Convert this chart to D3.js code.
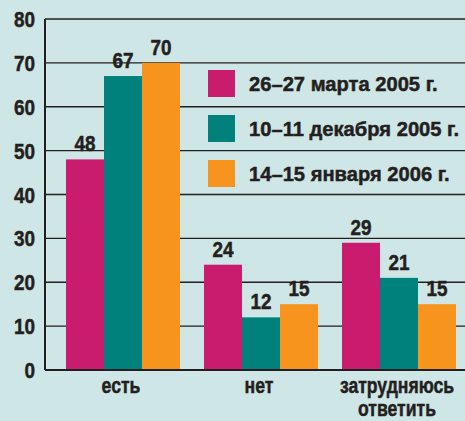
<!DOCTYPE html>
<html>
<head>
<meta charset="utf-8">
<script src="https://cdn.jsdelivr.net/npm/d3@7"></script>
<style>
  body { margin: 0; background: #cfe6e6; }
  text { font-family: "Liberation Sans", Arial, sans-serif; font-weight: bold; fill: #231f20; stroke: #231f20; stroke-width: 0.5px; }
</style>
</head>
<body>
<div id="container"></div>
<script>
let w = 465;
let h = 421;

// data
let categories = ["есть", "нет", "затрудняюсь\nответить"];
let seriesNames = ["26–27 марта 2005 г.", "10–11 декабря 2005 г.", "14–15 января 2006 г."];
let seriesColors = ["#c91c6e", "#00817b", "#f7941d"];
let march2005 = [48, 24, 29];
let december2005 = [67, 12, 21];
let january2006 = [70, 15, 15];
let yTicks = [0, 10, 20, 30, 40, 50, 60, 70, 80];

let series = [march2005, december2005, january2006];

let viz = d3.select("#container")
  .append("svg")
    .attr("width", w)
    .attr("height", h)
    .style("background-color", "#cfe6e6");

let axisX = 45;
let yScale = d3.scaleLinear().domain([0, 80]).range([370, 19]);
let xScale = d3.scaleBand().domain(categories).range([66, 456]).paddingInner(24 / 138).paddingOuter(0);
let xSub = d3.scaleBand().domain([0, 1, 2]).range([0, xScale.bandwidth()]);

// the original type is a condensed face, so squeeze it
function place(x, y, sx) {
  return "translate(" + x + "," + y + ") scale(" + sx + ",1)";
}

// gridlines
viz.append("g").selectAll("line").data(yTicks.filter(d => d > 0)).enter()
  .append("line")
  .attr("x1", axisX)
  .attr("x2", w)
  .attr("y1", d => yScale(d))
  .attr("y2", d => yScale(d))
  .attr("stroke", "#231f20")
  .attr("stroke-width", 1.3);

// y labels
viz.append("g").selectAll("text").data(yTicks).enter()
  .append("text")
  .attr("transform", d => place(35, yScale(d) + 8, 0.86))
  .attr("text-anchor", "end")
  .style("font-size", "22px")
  .text(d => d);

// bars
let groups = viz.selectAll(".datagroup").data(categories).enter()
  .append("g")
  .attr("class", "datagroup")
  .attr("transform", d => "translate(" + xScale(d) + ",0)");

groups.each(function(cat, ci) {
  let g = d3.select(this);
  series.forEach(function(vals, si) {
    g.append("rect")
      .attr("x", xSub(si))
      .attr("width", xSub.bandwidth())
      .attr("y", yScale(vals[ci]))
      .attr("height", yScale(0) - yScale(vals[ci]))
      .attr("fill", seriesColors[si]);
    g.append("text")
      .attr("transform", place(xSub(si) + xSub.bandwidth() / 2, yScale(vals[ci]) - 8, 0.86))
      .attr("text-anchor", "middle")
      .style("font-size", "22px")
      .text(vals[ci]);
  });
});

// axes lines
viz.append("line")
  .attr("x1", axisX).attr("x2", axisX)
  .attr("y1", yScale(80)).attr("y2", yScale(0))
  .attr("stroke", "#231f20").attr("stroke-width", 2);
viz.append("line")
  .attr("x1", axisX).attr("x2", w)
  .attr("y1", yScale(0)).attr("y2", yScale(0))
  .attr("stroke", "#231f20").attr("stroke-width", 2);

// category labels
groups.each(function(cat) {
  let lines = cat.split("\n");
  lines.forEach(function(l, i) {
    d3.select(this).append("text")
      .attr("transform", place(xScale.bandwidth() / 2 - 2, 393 + i * 23, 0.8))
      .attr("text-anchor", "middle")
      .style("font-size", "22px")
      .text(l);
  }, this);
});

// legend
let legend = viz.selectAll(".legend").data(seriesNames).enter()
  .append("g")
  .attr("class", "legend")
  .attr("transform", (d, i) => "translate(208," + (70 + i * 45) + ")");
legend.append("rect")
  .attr("width", 27)
  .attr("height", 27)
  .attr("fill", (d, i) => seriesColors[i]);
legend.append("text")
  .attr("transform", "translate(41,20.5) scale(0.96,1)")
  .style("font-size", "21px")
  .text(d => d);
</script>
</body>
</html>
